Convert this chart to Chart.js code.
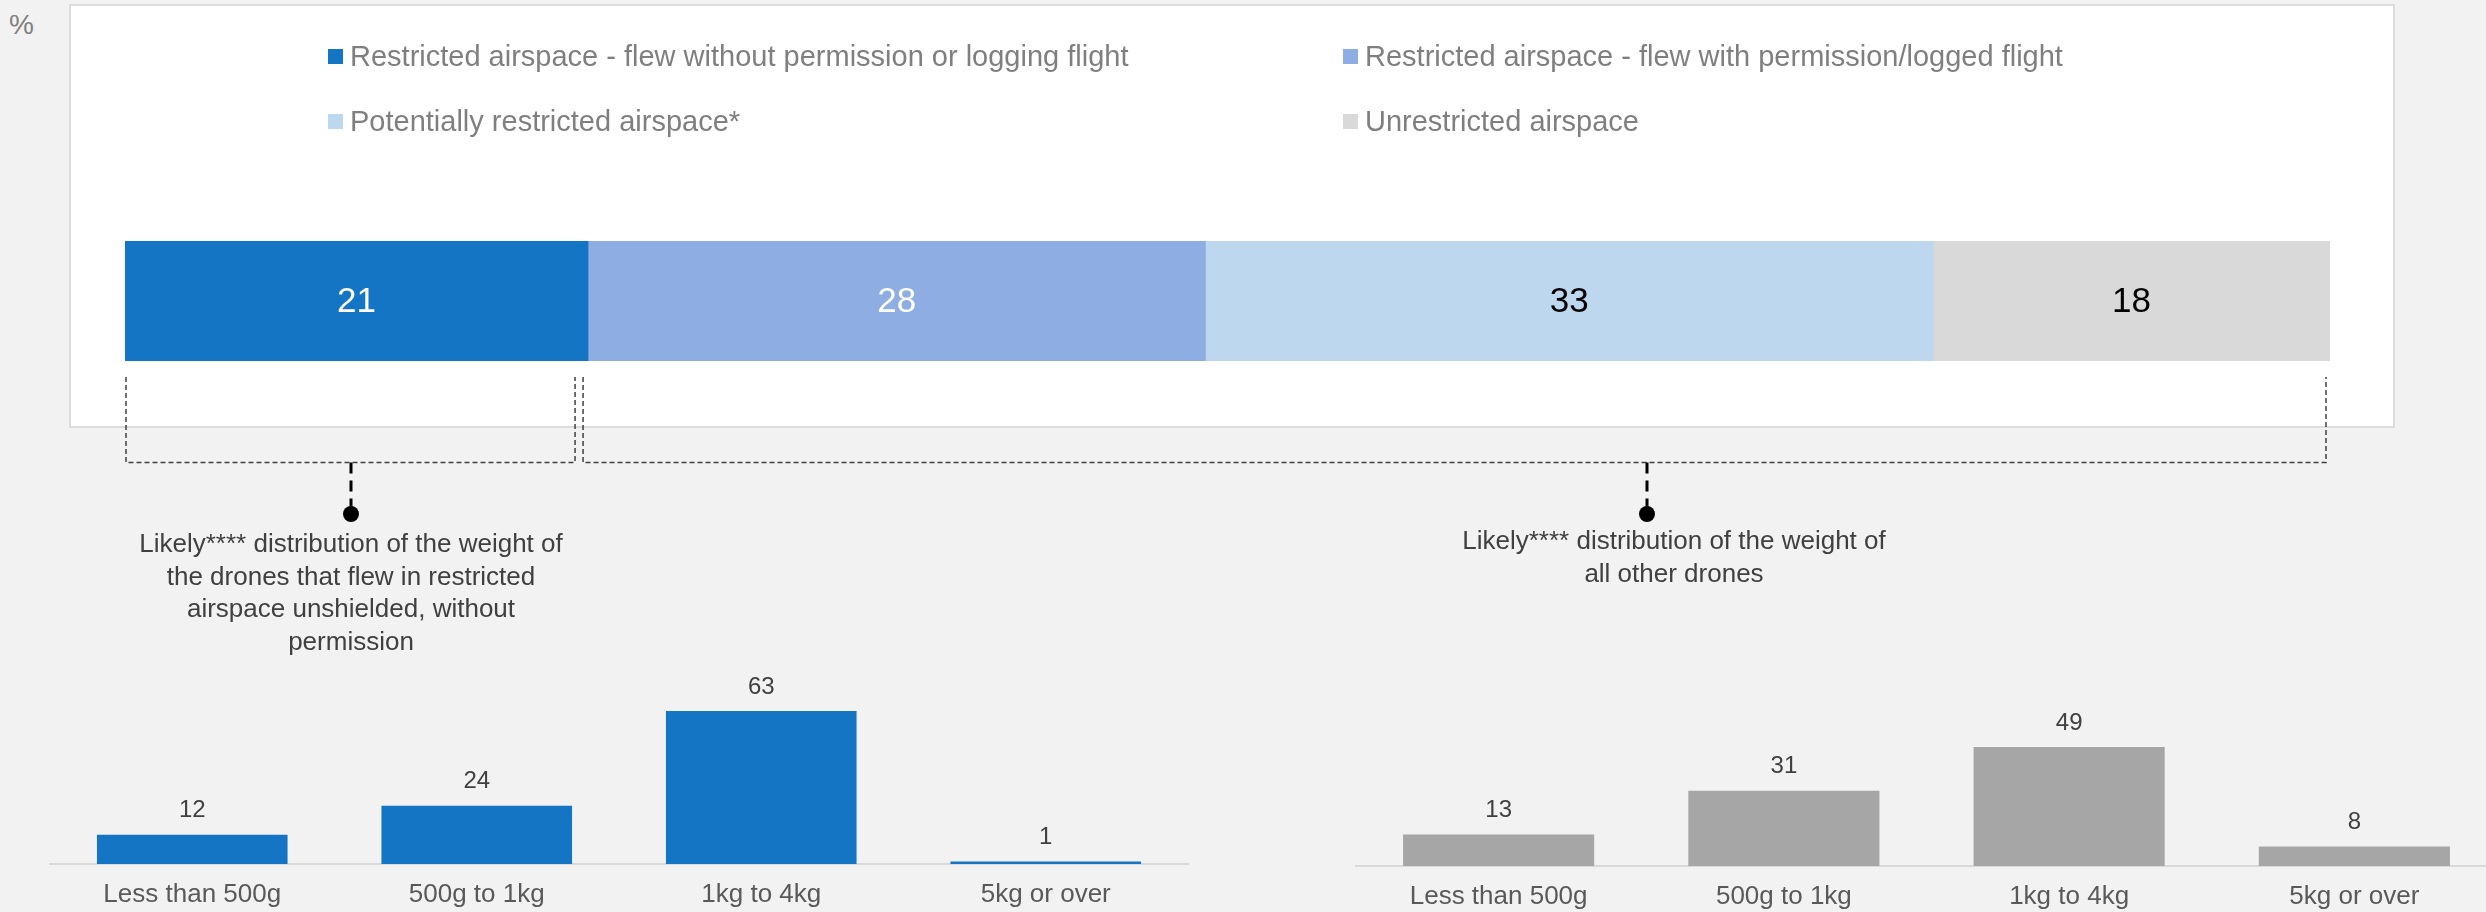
<!DOCTYPE html>
<html lang="en">
<head>
    <meta charset="UTF-8">
    <title>Drone flights by airspace</title>
    <script src="https://cdn.jsdelivr.net/npm/chart.js"></script>
    <style>
        html, body {
            margin: 0;
            padding: 0;
        }

        body {
            position: relative;
            width: 2486px;
            height: 912px;
            overflow: hidden;
            background: #F2F2F2;
            font-family: 'Liberation Sans', Arial, sans-serif;
        }

        .panel {
            position: absolute;
            left: 69px;
            top: 4px;
            width: 2326px;
            height: 424px;
            box-sizing: border-box;
            background: #fff;
            border: 2px solid #DCDCDC;
        }

        canvas {
            position: absolute;
        }

        .unit {
            position: absolute;
            left: 9px;
            top: 9px;
            font-size: 28px;
            line-height: 32px;
            color: #808080;
        }

        .legend-item {
            position: absolute;
            display: flex;
            align-items: center;
            height: 32px;
            font-size: 29px;
            color: #7F7F7F;
            white-space: nowrap;
        }

        .legend-item span.box {
            width: 15px;
            height: 15px;
            margin-right: 7px;
        }

        .note {
            position: absolute;
            width: 560px;
            text-align: center;
            font-size: 26px;
            line-height: 32.5px;
            color: #404040;
        }
    </style>
</head>
<body>
<div class="panel"></div>
<div class="unit">%</div>
<canvas id="topChart" width="2486" height="530" style="left:0;top:0"></canvas>
<div id="legend"></div>
<div class="note" style="left:71px;top:527px">Likely**** distribution of the weight of<br>the drones that flew in restricted<br>airspace unshielded, without<br>permission</div>
<div class="note" style="left:1394px;top:524px">Likely**** distribution of the weight of<br>all other drones</div>
<canvas id="leftChart" width="1240" height="272" style="left:0;top:640px"></canvas>
<canvas id="rightChart" width="1270" height="272" style="left:1240px;top:640px"></canvas>
<script>
    // top stacked bar (%)
    const segLabels = [
        'Restricted airspace - flew without permission or logging flight',
        'Restricted airspace - flew with permission/logged flight',
        'Potentially restricted airspace*',
        'Unrestricted airspace'
    ];
    const segValues = [21, 28, 33, 18];
    const segColors = ['#1475C5', '#8EAEE3', '#BDD7EE', '#D9D9D9'];
    const segTextColors = ['#FFFFFF', '#FFFFFF', '#000000', '#000000'];

    // weight distributions
    const weightCats = ['Less than 500g', '500g to 1kg', '1kg to 4kg', '5kg or over'];
    const unshieldedValues = [12, 24, 63, 1];
    const otherValues = [13, 31, 49, 8];

    Chart.defaults.font.family = "'Liberation Sans', Arial, sans-serif";

    // numbers in the middle of each stacked segment
    const segmentLabels = {
        id: 'segmentLabels',
        afterDatasetsDraw(chart) {
            const ctx = chart.ctx;
            ctx.save();
            ctx.font = "35px 'Liberation Sans', Arial, sans-serif";
            ctx.textAlign = 'center';
            ctx.textBaseline = 'middle';
            chart.data.datasets.forEach((ds, i) => {
                chart.getDatasetMeta(i).data.forEach((bar, j) => {
                    ctx.fillStyle = segTextColors[i];
                    ctx.fillText(ds.data[j], (bar.x + bar.base) / 2, bar.y + 1);
                });
            });
            ctx.restore();
        }
    };

    // dashed brackets under the bar with the pointer stems
    const bracketPlugin = {
        id: 'brackets',
        afterDraw(chart) {
            const ctx = chart.ctx;
            const xs = chart.scales.x;
            const bar = chart.getDatasetMeta(0).data[0];
            const top = bar.y + bar.height / 2 + 16;
            const bottom = 462.5;

            function bracket(x1, x2, stemX) {
                ctx.strokeStyle = '#404040';
                ctx.lineWidth = 1.5;
                ctx.setLineDash([5, 3]);
                ctx.beginPath();
                ctx.moveTo(x1, top);
                ctx.lineTo(x1, bottom);
                ctx.lineTo(x2, bottom);
                ctx.lineTo(x2, top);
                ctx.stroke();

                ctx.strokeStyle = '#000';
                ctx.lineWidth = 3;
                ctx.setLineDash([11, 7]);
                ctx.beginPath();
                ctx.moveTo(stemX, bottom);
                ctx.lineTo(stemX, 514);
                ctx.stroke();
                ctx.setLineDash([]);
                ctx.fillStyle = '#000';
                ctx.beginPath();
                ctx.arc(stemX, 514, 8, 0, Math.PI * 2);
                ctx.fill();
            }

            ctx.save();
            const split = xs.getPixelForValue(segValues[0]);
            bracket(xs.getPixelForValue(0) + 1, split - 13, 351);
            bracket(split - 5, xs.getPixelForValue(100) - 4, 1647);
            ctx.restore();
        }
    };

    const topChart = new Chart(document.getElementById('topChart'), {
        type: 'bar',
        data: {
            labels: [''],
            datasets: segLabels.map((label, i) => ({
                label: label,
                data: [segValues[i]],
                backgroundColor: segColors[i],
                borderWidth: 0,
                barPercentage: 1,
                categoryPercentage: 1
            }))
        },
        options: {
            indexAxis: 'y',
            responsive: false,
            animation: false,
            events: [],
            layout: {padding: {left: 125, right: 156, top: 241, bottom: 169}},
            scales: {
                x: {stacked: true, min: 0, max: 100, display: false},
                y: {stacked: true, display: false}
            },
            plugins: {
                legend: {display: false},
                tooltip: {enabled: false}
            }
        },
        plugins: [segmentLabels, bracketPlugin]
    });

    // html legend laid out in two columns
    const legendEl = document.getElementById('legend');
    const items = topChart.options.plugins.legend.labels.generateLabels(topChart);
    items.forEach((item, i) => {
        const div = document.createElement('div');
        div.className = 'legend-item';
        div.style.left = (328 + (i % 2) * 1015) + 'px';
        div.style.top = (40 + Math.floor(i / 2) * 65) + 'px';
        const box = document.createElement('span');
        box.className = 'box';
        box.style.background = item.fillStyle;
        div.appendChild(box);
        div.appendChild(document.createTextNode(item.text));
        legendEl.appendChild(div);
    });

    // numbers above the columns
    const columnLabels = {
        id: 'columnLabels',
        afterDatasetsDraw(chart) {
            const ctx = chart.ctx;
            ctx.save();
            ctx.font = "24px 'Liberation Sans', Arial, sans-serif";
            ctx.fillStyle = '#404040';
            ctx.textAlign = 'center';
            ctx.textBaseline = 'middle';
            const ds = chart.data.datasets[0];
            chart.getDatasetMeta(0).data.forEach((bar, j) => {
                ctx.fillText(ds.data[j], bar.x, bar.y - 24);
            });
            ctx.restore();
        }
    };

    function weightChart(id, values, color, padding, axisHeight) {
        return new Chart(document.getElementById(id), {
            type: 'bar',
            data: {
                labels: weightCats,
                datasets: [{
                    data: values,
                    backgroundColor: color,
                    borderWidth: 0,
                    barPercentage: 0.67,
                    categoryPercentage: 1
                }]
            },
            options: {
                responsive: false,
                animation: false,
                events: [],
                layout: {padding: padding},
                scales: {
                    x: {
                        grid: {display: false, drawTicks: false},
                        border: {display: true, color: '#D9D9D9', width: 2},
                        ticks: {
                            color: '#595959',
                            font: {size: 26},
                            padding: 15,
                            maxRotation: 0,
                            autoSkip: false
                        },
                        afterFit(scale) {
                            scale.height = axisHeight;
                        }
                    },
                    y: {min: 0, max: 70, display: false}
                },
                plugins: {
                    legend: {display: false},
                    tooltip: {enabled: false}
                }
            },
            plugins: [columnLabels]
        });
    }

    weightChart('leftChart', unshieldedValues, '#1475C5', {left: 50, right: 52, top: 54, bottom: 0}, 48);
    weightChart('rightChart', otherValues, '#A6A6A6', {left: 116, right: 13, top: 56, bottom: 0}, 46);
</script>
</body>
</html>
